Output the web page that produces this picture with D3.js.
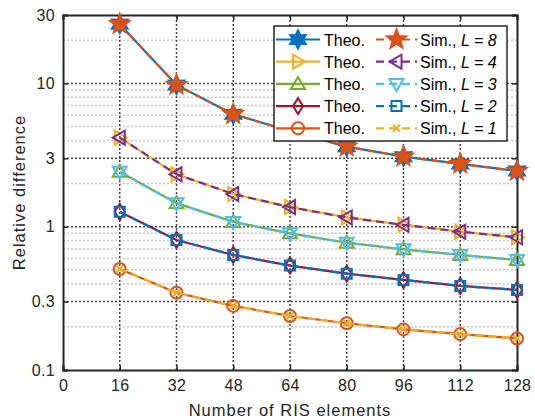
<!DOCTYPE html>
<html>
  <head>
    <meta charset="utf-8">
    <title>Relative difference vs number of RIS elements</title>
    <style>
body {
  margin: 0;
  background: #fff;
}
text {
  font-family: "Liberation Sans", Arial, sans-serif;
}
    </style>
  </head>
  <body>
    <div id="chart"></div>
    <script src="https://cdn.jsdelivr.net/npm/d3@7/dist/d3.min.js"></script>
    <script>

    var ris = [16, 32, 48, 64, 80, 96, 112, 128];

    // theoretical curves, per number of paths L
    var theoL8 = [25.9, 9.75, 6.09, 4.65, 3.62, 3.08, 2.74, 2.45];
    var theoL4 = [4.18, 2.32, 1.69, 1.37, 1.16, 1.03, 0.923, 0.844];
    var theoL3 = [2.42, 1.46, 1.08, 0.899, 0.773, 0.695, 0.635, 0.586];
    var theoL2 = [1.27, 0.808, 0.635, 0.535, 0.470, 0.425, 0.386, 0.362];
    var theoL1 = [0.507, 0.346, 0.280, 0.238, 0.212, 0.192, 0.178, 0.166];

    // simulated curves
    var simL8 = [25.9, 9.75, 6.09, 4.65, 3.62, 3.08, 2.74, 2.45];
    var simL4 = [4.18, 2.32, 1.69, 1.37, 1.16, 1.03, 0.923, 0.844];
    var simL3 = [2.42, 1.46, 1.08, 0.899, 0.773, 0.695, 0.635, 0.586];
    var simL2 = [1.27, 0.808, 0.635, 0.535, 0.470, 0.425, 0.386, 0.362];
    var simL1 = [0.507, 0.346, 0.280, 0.238, 0.212, 0.192, 0.178, 0.166];

    var xTicks = [0, 16, 32, 48, 64, 80, 96, 112, 128];
    var yTicks = [0.1, 0.3, 1, 3, 10, 30];
    var yMinor = [0.2, 0.4, 0.5, 0.6, 0.7, 0.8, 0.9, 2, 4, 5, 6, 7, 8, 9, 20];
    var legendL = ['8', '4', '3', '2', '1'];

    var series = [
      {vals: theoL8, color: '#0072BD', marker: 'hexagram', dash: null, fill: '#0072BD'},
      {vals: simL8,  color: '#D95319', marker: 'pentagram', dash: '8,5', fill: '#D95319'},
      {vals: theoL4, color: '#EDB120', marker: 'triRight', dash: null, fill: 'none'},
      {vals: simL4,  color: '#7E2F8E', marker: 'triLeft', dash: '8,5', fill: 'none'},
      {vals: theoL3, color: '#77AC30', marker: 'triUp', dash: null, fill: 'none'},
      {vals: simL3,  color: '#4DBEEE', marker: 'triDown', dash: '8,5', fill: 'none'},
      {vals: theoL2, color: '#A2142F', marker: 'diamond', dash: null, fill: 'none'},
      {vals: simL2,  color: '#0072BD', marker: 'square', dash: '8,5', fill: 'none'},
      {vals: theoL1, color: '#D95319', marker: 'circle', dash: null, fill: 'none'},
      {vals: simL1,  color: '#EDB120', marker: 'cross', dash: '8,5', fill: 'none'}
    ];

    var width = 535, height = 420;
    var margin = {left: 63, right: 18, top: 15, bottom: 50};

    var svg = d3.select('#chart').append('svg')
        .attr('width', width)
        .attr('height', height);

    var x = d3.scaleLinear()
        .domain([0, 128])
        .range([margin.left, width - margin.right]);
    var y = d3.scaleLog()
        .domain([0.1, 30])
        .range([height - margin.bottom, margin.top]);

    // grid
    var grid = svg.append('g');
    grid.selectAll('.minor')
        .data(yMinor)
        .enter().append('line')
          .attr('x1', x.range()[0]).attr('x2', x.range()[1])
          .attr('y1', function(d) { return y(d); })
          .attr('y2', function(d) { return y(d); })
          .style('stroke', '#c8c8c8')
          .style('stroke-width', 1.5)
          .style('stroke-dasharray', '2,2');
    grid.selectAll('.majorY')
        .data(yTicks.slice(1, -1))
        .enter().append('line')
          .attr('x1', x.range()[0]).attr('x2', x.range()[1])
          .attr('y1', function(d) { return y(d); })
          .attr('y2', function(d) { return y(d); })
          .style('stroke', '#444')
          .style('stroke-width', 1.5)
          .style('stroke-dasharray', '2,2');
    grid.selectAll('.majorX')
        .data(xTicks.slice(1, -1))
        .enter().append('line')
          .attr('y1', y.range()[0]).attr('y2', y.range()[1])
          .attr('x1', function(d) { return x(d); })
          .attr('x2', function(d) { return x(d); })
          .style('stroke', '#444')
          .style('stroke-width', 1.5)
          .style('stroke-dasharray', '2,2');

    // axes
    svg.append('g')
        .attr('transform', 'translate(0,' + y.range()[0] + ')')
        .call(d3.axisBottom(x).tickValues(xTicks).tickSize(-5).tickPadding(10));
    svg.append('g')
        .attr('transform', 'translate(' + x.range()[0] + ',0)')
        .call(d3.axisLeft(y).tickValues(yTicks).tickFormat(d3.format('~g')).tickSize(-5).tickPadding(8));
    svg.append('g')
        .attr('transform', 'translate(0,' + y.range()[1] + ')')
        .call(d3.axisTop(x).tickValues(xTicks).tickSize(-5).tickFormat(''));
    svg.append('g')
        .attr('transform', 'translate(' + x.range()[1] + ',0)')
        .call(d3.axisRight(y).tickValues(yTicks).tickSize(-5).tickFormat(''));

    svg.selectAll('.domain').style('stroke', '#262626').style('stroke-width', 2);
    svg.selectAll('.tick line').style('stroke', '#262626').style('stroke-width', 1.5);
    svg.selectAll('.tick text')
        .style('font-size', '16px')
        .style('letter-spacing', '0.3px')
        .style('fill', '#262626');

    svg.append('text')
        .attr('x', (x.range()[0] + x.range()[1]) / 2)
        .attr('y', 416)
        .attr('text-anchor', 'middle')
        .style('font-size', '16.5px')
        .style('letter-spacing', '1px')
        .style('fill', '#262626')
        .text('Number of RIS elements');
    svg.append('text')
        .attr('transform', 'translate(25,' + ((y.range()[0] + y.range()[1]) / 2) + ') rotate(-90)')
        .attr('text-anchor', 'middle')
        .style('font-size', '16.5px')
        .style('letter-spacing', '1px')
        .style('fill', '#262626')
        .text('Relative difference');

    function starPath(n, r, ratio) {
      var pts = [];
      for (var i = 0; i < 2 * n; i++) {
        var a = -Math.PI / 2 + i * Math.PI / n;
        var rr = i % 2 ? r * ratio : r;
        pts.push([rr * Math.cos(a), rr * Math.sin(a)]);
      }
      return 'M' + pts.join('L') + 'Z';
    }

    function markerPath(type) {
      switch (type) {
        case 'hexagram': return starPath(6, 9, 0.55);
        case 'pentagram': return starPath(5, 10, 0.42);
        case 'triRight': return 'M7,0L-5,-7L-5,7Z';
        case 'triLeft': return 'M-7,0L5,-7L5,7Z';
        case 'triUp': return 'M0,-7L7,5L-7,5Z';
        case 'triDown': return 'M0,7L7,-5L-7,-5Z';
        case 'diamond': return 'M0,-8L5,0L0,8L-5,0Z';
        case 'square': return 'M-5,-5L5,-5L5,5L-5,5Z';
        case 'circle': return 'M6,0A6,6 0 1,1 -6,0A6,6 0 1,1 6,0Z';
        case 'cross': return 'M-3.5,-3.5L3.5,3.5M-3.5,3.5L3.5,-3.5';
      }
    }

    var line = d3.line()
        .x(function(d, i) { return x(ris[i]); })
        .y(function(d) { return y(d); });

    var plot = svg.append('g');
    series.forEach(function(s) {
      var g = plot.append('g');
      g.append('path')
          .datum(s.vals)
          .attr('d', line)
          .style('fill', 'none')
          .style('stroke', s.color)
          .style('stroke-width', 2.2)
          .style('stroke-dasharray', s.dash);
      g.selectAll('.mk')
          .data(s.vals)
          .enter().append('path')
            .attr('transform', function(d, i) { return 'translate(' + x(ris[i]) + ',' + y(d) + ')'; })
            .attr('d', markerPath(s.marker))
            .style('fill', s.fill)
            .style('stroke', s.color)
            .style('stroke-width', 2);
    });

    // legend
    var leg = svg.append('g').attr('transform', 'translate(274,26)');
    leg.append('rect')
        .attr('width', 233)
        .attr('height', 115)
        .style('fill', '#fff')
        .style('stroke', '#262626')
        .style('stroke-width', 1.5);

    legendL.forEach(function(L, k) {
      var row = leg.append('g').attr('transform', 'translate(0,' + (13.5 + k * 22.2) + ')');
      [0, 1].forEach(function(c) {
        var s = series[2 * k + c];
        var x0 = c ? 102 : 2, x1 = c ? 143 : 46;
        row.append('line')
            .attr('x1', x0).attr('x2', x1)
            .style('stroke', s.color)
            .style('stroke-width', 2.2)
            .style('stroke-dasharray', s.dash);
        row.append('path')
            .attr('transform', 'translate(' + ((x0 + x1) / 2) + ',0)')
            .attr('d', markerPath(s.marker))
            .style('fill', s.fill)
            .style('stroke', s.color)
            .style('stroke-width', 2);
      });
      var t1 = row.append('text')
          .attr('x', 50).attr('y', 6)
          .style('font-size', '16px')
          .style('fill', '#000')
          .text('Theo.');
      var t2 = row.append('text')
          .attr('x', 146).attr('y', 6)
          .style('font-size', '16px')
          .style('fill', '#000');
      t2.append('tspan').text('Sim., ');
      t2.append('tspan').style('font-style', 'italic').text('L = ' + L);
    });

    </script>
  </body>
</html>
